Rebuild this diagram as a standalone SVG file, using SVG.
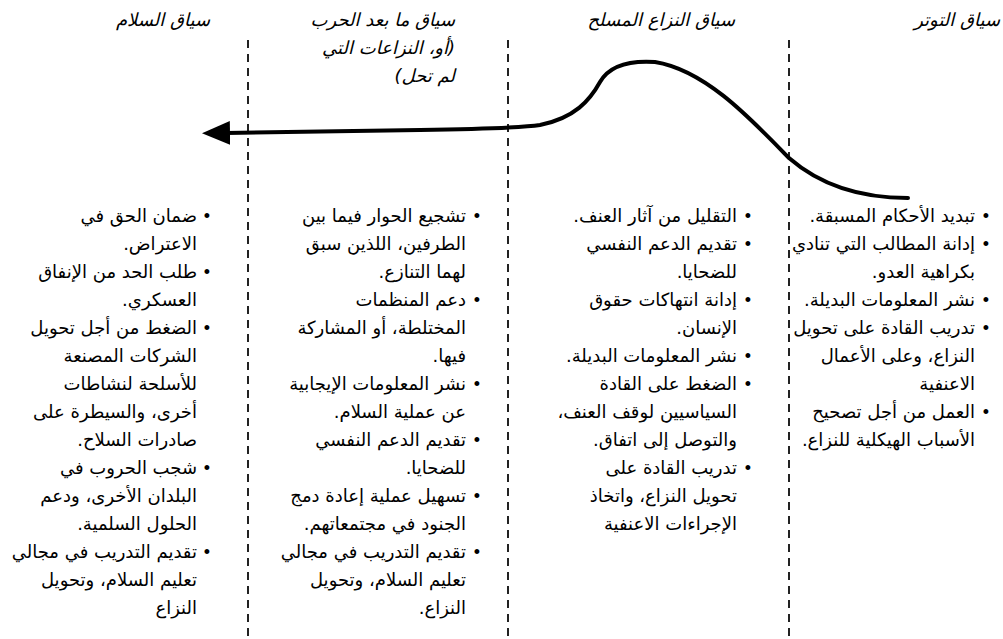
<svg xmlns="http://www.w3.org/2000/svg" width="1003" height="639" viewBox="0 0 1003 639">
<style>
.t { font-family: "DejaVu Sans", "Liberation Sans", sans-serif; font-size: 18px; fill: #000; direction: rtl; text-anchor: start; }
.h { font-style: italic; font-size: 18px; }
.b { font-family: "Liberation Sans", "DejaVu Sans", sans-serif; font-size: 18px; fill: #000; text-anchor: middle; }
.div { stroke: #222; stroke-width: 2; stroke-dasharray: 8 6; fill: none; }
.curve { stroke: #000; stroke-width: 4; fill: none; stroke-linecap: round; }
</style>
<defs>
<marker id="arrow" markerUnits="userSpaceOnUse" markerWidth="30" markerHeight="28" refX="4" refY="13" orient="auto">
<path d="M0,1 L28,13 L0,25 Z" fill="#000"/>
</marker>
</defs>
<rect width="1003" height="639" fill="#fff"/>
<g id="dividers">
<line class="div" x1="248" y1="40" x2="248" y2="639"/>
<line class="div" x1="508" y1="40" x2="508" y2="639"/>
<line class="div" x1="789" y1="40" x2="789" y2="639"/>
</g>
<g id="connectors">
<path class="curve" marker-end="url(#arrow)" d="M 908 198 C 860 198, 820 185, 789 158 C 750 118, 705 70, 655 62 C 625 60, 608 68, 600 82 C 590 100, 575 118, 540 125 C 520 128, 480 129, 420 130 L 226 133"/>
</g>
<g id="tension">
<text class="t h" x="1000" y="26">سياق التوتر</text>
<text class="b" x="986" y="222">•</text>
<text class="t" x="975" y="222">تبديد الأحكام المسبقة.</text>
<text class="b" x="986" y="250">•</text>
<text class="t" x="975" y="250">إدانة المطالب التي تنادي</text>
<text class="t" x="975" y="278">بكراهية العدو.</text>
<text class="b" x="986" y="306">•</text>
<text class="t" x="975" y="306">نشر المعلومات البديلة.</text>
<text class="b" x="986" y="334">•</text>
<text class="t" x="975" y="334">تدريب القادة على تحويل</text>
<text class="t" x="975" y="362">النزاع، وعلى الأعمال</text>
<text class="t" x="975" y="390">الاعنفية</text>
<text class="b" x="986" y="418">•</text>
<text class="t" x="975" y="418">العمل من أجل تصحيح</text>
<text class="t" x="975" y="446">الأسباب الهيكلية للنزاع.</text>
</g>
<g id="armed-conflict">
<text class="t h" x="735" y="26">سياق النزاع المسلح</text>
<text class="b" x="748" y="222">•</text>
<text class="t" x="737" y="222">التقليل من آثار العنف.</text>
<text class="b" x="748" y="250">•</text>
<text class="t" x="737" y="250">تقديم الدعم النفسي</text>
<text class="t" x="737" y="278">للضحايا.</text>
<text class="b" x="748" y="306">•</text>
<text class="t" x="737" y="306">إدانة انتهاكات حقوق</text>
<text class="t" x="737" y="334">الإنسان.</text>
<text class="b" x="748" y="362">•</text>
<text class="t" x="737" y="362">نشر المعلومات البديلة.</text>
<text class="b" x="748" y="390">•</text>
<text class="t" x="737" y="390">الضغط على القادة</text>
<text class="t" x="737" y="418">السياسيين لوقف العنف،</text>
<text class="t" x="737" y="446">والتوصل إلى اتفاق.</text>
<text class="b" x="748" y="474">•</text>
<text class="t" x="737" y="474">تدريب القادة على</text>
<text class="t" x="737" y="502">تحويل النزاع، واتخاذ</text>
<text class="t" x="737" y="530">الإجراءات الاعنفية</text>
</g>
<g id="post-war">
<text class="t h" x="455" y="26">سياق ما بعد الحرب</text>
<text class="t h" x="455" y="54">(أو، النزاعات التي</text>
<text class="t h" x="455" y="82">لم تحل)</text>
<text class="b" x="477" y="222">•</text>
<text class="t" x="466" y="222">تشجيع الحوار فيما بين</text>
<text class="t" x="466" y="250">الطرفين، اللذين سبق</text>
<text class="t" x="466" y="278">لهما التنازع.</text>
<text class="b" x="477" y="306">•</text>
<text class="t" x="466" y="306">دعم المنظمات</text>
<text class="t" x="466" y="334">المختلطة، أو المشاركة</text>
<text class="t" x="466" y="362">فيها.</text>
<text class="b" x="477" y="390">•</text>
<text class="t" x="466" y="390">نشر المعلومات الإيجابية</text>
<text class="t" x="466" y="418">عن عملية السلام.</text>
<text class="b" x="477" y="446">•</text>
<text class="t" x="466" y="446">تقديم الدعم النفسي</text>
<text class="t" x="466" y="474">للضحايا.</text>
<text class="b" x="477" y="502">•</text>
<text class="t" x="466" y="502">تسهيل عملية إعادة دمج</text>
<text class="t" x="466" y="530">الجنود في مجتمعاتهم.</text>
<text class="b" x="477" y="558">•</text>
<text class="t" x="466" y="558">تقديم التدريب في مجالي</text>
<text class="t" x="466" y="586">تعليم السلام، وتحويل</text>
<text class="t" x="466" y="614">النزاع.</text>
</g>
<g id="peace">
<text class="t h" x="210" y="26">سياق السلام</text>
<text class="b" x="207" y="222">•</text>
<text class="t" x="197" y="222">ضمان الحق في</text>
<text class="t" x="197" y="250">الاعتراض.</text>
<text class="b" x="207" y="278">•</text>
<text class="t" x="197" y="278">طلب الحد من الإنفاق</text>
<text class="t" x="197" y="306">العسكري.</text>
<text class="b" x="207" y="334">•</text>
<text class="t" x="197" y="334">الضغط من أجل تحويل</text>
<text class="t" x="197" y="362">الشركات المصنعة</text>
<text class="t" x="197" y="390">للأسلحة لنشاطات</text>
<text class="t" x="197" y="418">أخرى، والسيطرة على</text>
<text class="t" x="197" y="446">صادرات السلاح.</text>
<text class="b" x="207" y="474">•</text>
<text class="t" x="197" y="474">شجب الحروب في</text>
<text class="t" x="197" y="502">البلدان الأخرى، ودعم</text>
<text class="t" x="197" y="530">الحلول السلمية.</text>
<text class="b" x="207" y="558">•</text>
<text class="t" x="197" y="558">تقديم التدريب في مجالي</text>
<text class="t" x="197" y="586">تعليم السلام، وتحويل</text>
<text class="t" x="197" y="614">النزاع</text>
</g>
</svg>
